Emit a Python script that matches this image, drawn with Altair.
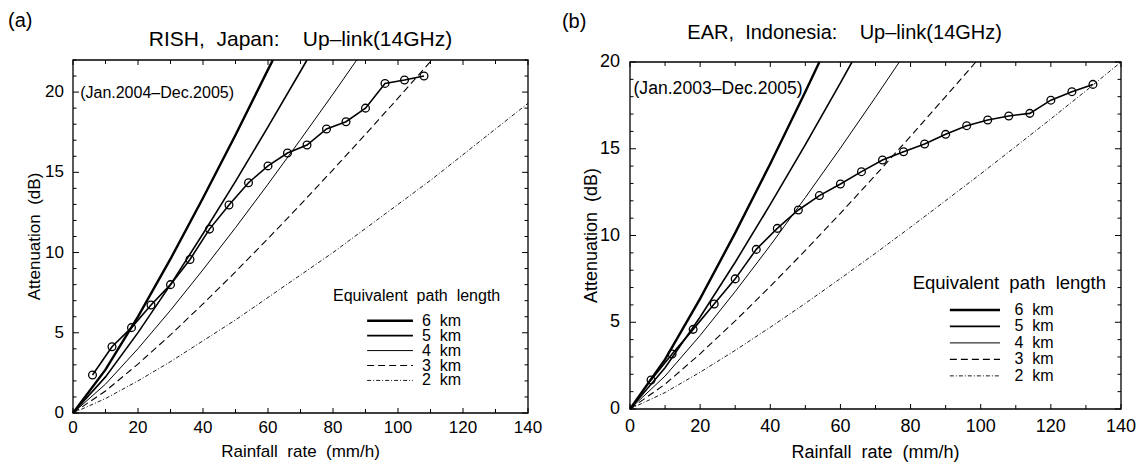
import altair as alt
import pandas as pd

FONT = "Liberation Sans"
NB = "\u00a0"

# ---- measured rain attenuation, 14 GHz up-link --------------------------------
RISH_RATE = [6, 12, 18, 24, 30, 36, 42, 48, 54, 60, 66, 72, 78, 84, 90, 96, 102, 108]
RISH_ATT = [2.37, 4.13, 5.32, 6.73, 8.0, 9.57, 11.46, 12.96, 14.35, 15.4,
            16.2, 16.7, 17.7, 18.15, 19.0, 20.54, 20.75, 21.0]

EAR_RATE = [6, 12, 18, 24, 30, 36, 42, 48, 54, 60, 66, 72, 78, 84, 90,
            96, 102, 108, 114, 120, 126, 132]
EAR_ATT = [1.67, 3.17, 4.59, 6.05, 7.5, 9.2, 10.41, 11.47, 12.3, 12.97, 13.68,
           14.35, 14.83, 15.27, 15.83, 16.33, 16.66, 16.89, 17.04, 17.8, 18.29, 18.71]

# ---- attenuation for equivalent path lengths (RISH panel) -----------------------
RISH_6KM_RATE = [0, 10, 20, 30, 40, 50, 60, 61.5]
RISH_6KM_ATT = [0, 2.70, 6.01, 9.60, 13.40, 17.33, 21.40, 22.0]
RISH_5KM_RATE = [0, 10, 20, 30, 40, 50, 60, 70, 72.0]
RISH_5KM_ATT = [0, 2.25, 5.01, 8.00, 11.17, 14.44, 17.83, 21.30, 22.0]
RISH_4KM_RATE = [0, 10, 20, 30, 40, 50, 60, 70, 80, 87.3]
RISH_4KM_ATT = [0, 1.80, 4.01, 6.40, 8.93, 11.55, 14.26, 17.04, 19.88, 22.0]
RISH_3KM_RATE = [0, 10, 20, 30, 40, 50, 60, 70, 80, 90, 100, 110, 110.4]
RISH_3KM_ATT = [0, 1.37, 3.05, 4.87, 6.80, 8.80, 10.87, 12.99, 15.16, 17.37, 19.62, 21.9, 22.0]
RISH_2KM_RATE = [0, 10, 20, 30, 40, 50, 60, 70, 80, 90, 100, 110, 120, 130, 140]
RISH_2KM_ATT = [0, 0.9, 2.0, 3.2, 4.5, 5.8, 7.2, 8.6, 10.0, 11.5, 13.0, 14.5, 16.1, 17.7, 19.3]

# ---- attenuation for equivalent path lengths (EAR panel) ------------------------
EAR_6KM_RATE = [0, 10, 20, 30, 40, 50, 54.0]
EAR_6KM_ATT = [0, 2.86, 6.36, 10.15, 14.14, 18.28, 20.0]
EAR_5KM_RATE = [0, 10, 20, 30, 40, 50, 60, 63.3]
EAR_5KM_ATT = [0, 2.38, 5.30, 8.46, 11.79, 15.24, 18.80, 20.0]
EAR_4KM_RATE = [0, 10, 20, 30, 40, 50, 60, 70, 76.8]
EAR_4KM_ATT = [0, 1.90, 4.24, 6.77, 9.43, 12.19, 15.04, 17.97, 20.0]
EAR_3KM_RATE = [0, 10, 20, 30, 40, 50, 60, 70, 80, 90, 98.6]
EAR_3KM_ATT = [0, 1.43, 3.18, 5.08, 7.07, 9.14, 11.28, 13.48, 15.72, 18.01, 20.0]
EAR_2KM_RATE = [0, 10, 20, 30, 40, 50, 60, 70, 80, 90, 100, 110, 120, 130, 140]
EAR_2KM_ATT = [0, 0.95, 2.12, 3.38, 4.71, 6.09, 7.52, 8.98, 10.48, 12.01, 13.55,
               15.13, 16.72, 18.34, 20.0]

PATH_LABELS = ["6 km", "5 km", "4 km", "3 km", "2 km"]

X_MAJOR = [0, 20, 40, 60, 80, 100, 120, 140]
X_MINOR = [10, 30, 50, 70, 90, 110, 130]
RISH_Y_LABELS = [0, 5, 10, 15, 20]
EAR_Y_LABELS = [0, 5, 10, 15, 20]

# line styles of the path-length curves
PATH_STYLE = {
    "6 km": dict(strokeWidth=2.4),
    "5 km": dict(strokeWidth=1.6),
    "4 km": dict(strokeWidth=1.0),
    "3 km": dict(strokeWidth=1.1, strokeDash=[7, 4]),
    "2 km": dict(strokeWidth=0.9, strokeDash=[4, 2, 1, 2]),
}

W, H = 1141, 462

PANELS = [
    dict(
        xr=[73, 528], yr=[413, 60], ymax=22, ylabels=RISH_Y_LABELS,
        rate=RISH_RATE, att=RISH_ATT,
        curves={"6 km": (RISH_6KM_RATE, RISH_6KM_ATT), "5 km": (RISH_5KM_RATE, RISH_5KM_ATT),
                "4 km": (RISH_4KM_RATE, RISH_4KM_ATT), "3 km": (RISH_3KM_RATE, RISH_3KM_ATT),
                "2 km": (RISH_2KM_RATE, RISH_2KM_ATT)},
        title=f"RISH,{NB * 2}Japan:{NB * 4}Up–link(14GHz)", title_fs=21, title_x=70, title_dy=-20,
        tag="(a)", tag_x=-20, tag_y=24.4,
        period="(Jan.2004–Dec.2005)", period_fs=16, period_x=2.2, period_y=19.95,
        axis_fs=17, xlab_dy=15, ylab_dx=-9, xtitle_dy=38.5, ytitle_off=-38,
        leg_title_fs=16, leg_fs=16,
        leg_x=80, leg_title_y=7.3, leg_x1=90.5, leg_x2=104.6, leg_lab=107.4,
        leg_row0=5.75, leg_step=0.93,
    ),
    dict(
        xr=[630, 1121], yr=[409, 62], ymax=20, ylabels=EAR_Y_LABELS,
        rate=EAR_RATE, att=EAR_ATT,
        curves={"6 km": (EAR_6KM_RATE, EAR_6KM_ATT), "5 km": (EAR_5KM_RATE, EAR_5KM_ATT),
                "4 km": (EAR_4KM_RATE, EAR_4KM_ATT), "3 km": (EAR_3KM_RATE, EAR_3KM_ATT),
                "2 km": (EAR_2KM_RATE, EAR_2KM_ATT)},
        title=f"EAR,{NB * 2}Indonesia:{NB * 4}Up–link(14GHz)", title_fs=20, title_x=61.2,
        title_dy=-29,
        tag="(b)", tag_x=-19.4, tag_y=22.3,
        period="(Jan.2003–Dec.2005)", period_fs=17.6, period_x=1.0, period_y=18.45,
        axis_fs=18, xlab_dy=17.5, ylab_dx=-10, xtitle_dy=44, ytitle_off=-38,
        leg_title_fs=18.5, leg_fs=16,
        leg_x=80.6, leg_title_y=7.24, leg_x1=91.2, leg_x2=105.5, leg_lab=109.6,
        leg_row0=5.71, leg_step=0.95,
    ),
]


def build_panel(p):
    ymax = p["ymax"]
    fs = p["axis_fs"]
    xs = alt.Scale(domain=[0, 140], range=p["xr"], nice=False, zero=False)
    ys = alt.Scale(domain=[0, ymax], range=p["yr"], nice=False, zero=False)
    one = pd.DataFrame({"d": [0]})

    def xd(v):
        return alt.X(datum=v, type="quantitative", scale=xs, axis=None)

    def yd(v):
        return alt.Y(datum=v, type="quantitative", scale=ys, axis=None)

    def xf(name):
        return alt.X(f"{name}:Q", scale=xs, axis=None)

    def yf(name):
        return alt.Y(f"{name}:Q", scale=ys, axis=None)

    layers = []

    # plot frame
    layers.append(
        alt.Chart(one).mark_rect(fillOpacity=0, stroke="black", strokeWidth=1.3).encode(
            x=xd(0), x2=alt.X2(datum=140), y=yd(0), y2=alt.Y2(datum=ymax),
        )
    )

    # inward ticks on all four sides
    y_major = list(range(0, ymax + 1, 5))
    y_minor = [v for v in range(0, ymax + 1) if v % 5]
    for vals, length in ((X_MAJOR, 5), (X_MINOR, 4)):
        df = pd.DataFrame({"v": vals})
        layers.append(alt.Chart(df).mark_rule(color="black", strokeWidth=1, y2Offset=-length).encode(
            x=xf("v"), y=yd(0), y2=alt.Y2(datum=0)))
        layers.append(alt.Chart(df).mark_rule(color="black", strokeWidth=1, y2Offset=length).encode(
            x=xf("v"), y=yd(ymax), y2=alt.Y2(datum=ymax)))
    for vals, length in ((y_major, 6), (y_minor, 3.5)):
        df = pd.DataFrame({"v": vals})
        layers.append(alt.Chart(df).mark_rule(color="black", strokeWidth=1, x2Offset=length).encode(
            y=yf("v"), x=xd(0), x2=alt.X2(datum=0)))
        layers.append(alt.Chart(df).mark_rule(color="black", strokeWidth=1, x2Offset=-length).encode(
            y=yf("v"), x=xd(140), x2=alt.X2(datum=140)))

    # tick labels and axis titles
    xl = pd.DataFrame({"v": X_MAJOR, "t": [str(v) for v in X_MAJOR]})
    layers.append(alt.Chart(xl).mark_text(
        font=FONT, fontSize=fs, align="center", baseline="middle", dy=p["xlab_dy"],
        color="black").encode(x=xf("v"), y=yd(0), text="t:N"))
    yl = pd.DataFrame({"v": p["ylabels"], "t": [str(v) for v in p["ylabels"]]})
    layers.append(alt.Chart(yl).mark_text(
        font=FONT, fontSize=fs, align="right", baseline="middle", dx=p["ylab_dx"],
        color="black").encode(x=xd(0), y=yf("v"), text="t:N"))
    layers.append(alt.Chart(one).mark_text(
        text=f"Rainfall{NB * 2}rate{NB * 2}(mm/h)", font=FONT, fontSize=fs, align="center",
        baseline="middle", dy=p["xtitle_dy"], color="black").encode(x=xd(70), y=yd(0)))
    # rotated title: offsets are applied in the text's own frame
    layers.append(alt.Chart(one).mark_text(
        text=f"Attenuation{NB * 2}(dB)", font=FONT, fontSize=fs, align="center",
        baseline="middle", angle=270, dy=p["ytitle_off"], color="black").encode(
        x=xd(0), y=yd(ymax / 2)))

    # equivalent path length curves
    for lab in PATH_LABELS:
        rates, atts = p["curves"][lab]
        df = pd.DataFrame({"rate": rates, "att": atts})
        layers.append(alt.Chart(df).mark_line(color="black", **PATH_STYLE[lab]).encode(
            x=xf("rate"), y=yf("att"), order="rate:Q",
        ))

    # measured attenuation
    meas = pd.DataFrame({"rate": p["rate"], "att": p["att"]})
    layers.append(alt.Chart(meas).mark_line(color="black", strokeWidth=1.6).encode(
        x=xf("rate"), y=yf("att")))
    layers.append(alt.Chart(meas).mark_point(
        shape="circle", size=60, filled=False, color="black", strokeWidth=1.3, opacity=1
    ).encode(x=xf("rate"), y=yf("att")))

    # panel title, tag and observation period
    layers.append(alt.Chart(one).mark_text(
        text=p["title"], font=FONT, fontSize=p["title_fs"], align="center", baseline="middle",
        dy=p["title_dy"], color="black").encode(x=xd(p["title_x"]), y=yd(ymax)))
    layers.append(alt.Chart(one).mark_text(
        text=p["tag"], font=FONT, fontSize=20, align="left", baseline="middle",
        color="black").encode(x=xd(p["tag_x"]), y=yd(p["tag_y"])))
    layers.append(alt.Chart(one).mark_text(
        text=p["period"], font=FONT, fontSize=p["period_fs"], align="left", baseline="middle",
        color="black").encode(x=xd(p["period_x"]), y=yd(p["period_y"])))

    # legend
    layers.append(alt.Chart(one).mark_text(
        text=f"Equivalent{NB * 2}path{NB * 2}length", font=FONT, fontSize=p["leg_title_fs"],
        align="left", baseline="middle", color="black").encode(
        x=xd(p["leg_x"]), y=yd(p["leg_title_y"])))
    rows_y = [p["leg_row0"] - i * p["leg_step"] for i in range(len(PATH_LABELS))]
    for lab, yv in zip(PATH_LABELS, rows_y):
        layers.append(alt.Chart(one).mark_rule(color="black", **PATH_STYLE[lab]).encode(
            x=xd(p["leg_x1"]), x2=alt.X2(datum=p["leg_x2"]), y=yd(yv)))
    leg = pd.DataFrame({"label": [l.replace(" ", NB * 2) for l in PATH_LABELS], "y": rows_y})
    layers.append(alt.Chart(leg).mark_text(
        font=FONT, fontSize=p["leg_fs"], align="left", baseline="middle", color="black").encode(
        x=xd(p["leg_lab"]), y=yf("y"), text="label:N"))

    return alt.layer(*layers)


chart = (
    alt.layer(*[build_panel(p) for p in PANELS])
    .resolve_scale(x="independent", y="independent")
    .properties(width=W, height=H, padding=0, autosize=alt.AutoSizeParams(type="none"),
                background="white")
    .configure_view(stroke=None)
)

chart.save("out.html", embed_options={"renderer": "svg", "actions": False})
